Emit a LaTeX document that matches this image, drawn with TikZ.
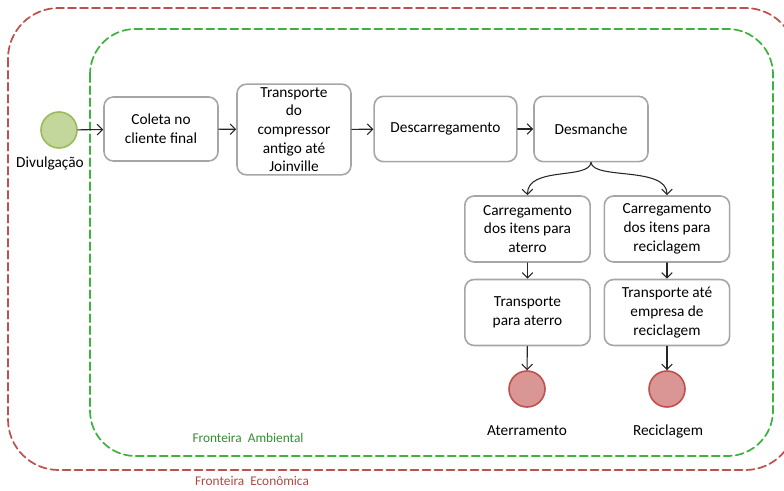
\documentclass[tikz,border=0pt]{standalone}
\usepackage{fontspec}
\setmainfont{Carlito}
\usepackage{tikz}
\usetikzlibrary{arrows.meta}

\definecolor{boxgray}{HTML}{A6A6A6}
\definecolor{ambgreen}{HTML}{3DB23D}
\definecolor{ecored}{HTML}{C0504D}
\definecolor{startfill}{HTML}{C3D69B}
\definecolor{startline}{HTML}{9BBB59}
\definecolor{endfill}{HTML}{D99694}
\definecolor{endline}{HTML}{C0504D}

\tikzset{
  activity/.style={draw=boxgray,line width=1.2pt,rounded corners=7pt,fill=white,
    align=center,font=\fontsize{11.5}{14}\selectfont,inner sep=2pt},
  startev/.style={circle,draw=startline,fill=startfill,line width=1.2pt,minimum size=27pt,inner sep=0pt},
  endev/.style={circle,draw=endline,fill=endfill,line width=1.2pt,minimum size=27pt,inner sep=0pt},
  evlabel/.style={font=\fontsize{11.5}{13.5}\selectfont,inner sep=1pt},
  frontier/.style={line width=1.3pt,dash pattern=on 6pt off 3pt,rounded corners=#1},
  flow/.style={->,line width=0.8pt,black!85}
}

\begin{document}
\begin{tikzpicture}[x=0.75pt,y=-0.75pt,line cap=round,line join=round,>={Straight Barb[length=4pt,width=8pt]}]
        \useasboundingbox (0,0) rectangle (784,491);
        \clip (0,0) rectangle (784,491);
        % fronteiras
        \draw [frontier=38pt,ecored] (8,8) rectangle (796,470);
        \draw [frontier=34pt,ambgreen] (90,29) rectangle (773,456);
        \node [font=\fontsize{10}{12}\selectfont,text=ambgreen!80!black] (famb) at (248,438) {Fronteira\ \ Ambiental};
        \node [font=\fontsize{10}{12}\selectfont,text=ecored!90!black] (feco) at (252,481) {Fronteira\ \ Econômica};
        % eventos e atividades
        \node [startev] (div) at (59,130) {};
        \node [evlabel] (divl) at (50,163) {Divulgação};
        \node [activity,minimum width=85.5pt,minimum height=48pt] (coleta) at (161,129) {Coleta no\\cliente final};
        \node [activity,minimum width=85.5pt,minimum height=68pt] (transp) at (294,129.5) {Transporte\\do\\compressor\\antigo até\\Joinville};
        \node [activity,minimum width=107pt,minimum height=49pt] (descarr) at (445.5,129) {Descarregamento};
        \node [activity,minimum width=85.5pt,minimum height=49pt] (desm) at (591,129) {Desmanche};
        \node [activity,minimum width=94pt,minimum height=49.5pt] (carAt) at (527.5,229) {Carregamento\\dos itens para\\aterro};
        \node [activity,minimum width=94pt,minimum height=49.5pt] (carRe) at (667,229) {Carregamento\\dos itens para\\reciclagem};
        \node [activity,minimum width=94pt,minimum height=49.5pt] (trAt) at (527.5,312.5) {Transporte\\para aterro};
        \node [activity,minimum width=94pt,minimum height=49.5pt] (trRe) at (667,312.5) {Transporte até\\empresa de\\reciclagem};
        \node [endev] (aterr) at (527,389) {};
        \node [endev] (recic) at (667,389) {};
        \node [evlabel] (aterrl) at (527,431) {Aterramento};
        \node [evlabel] (recicl) at (668,431) {Reciclagem};
        % fluxos
        \draw [flow] (div) -- (coleta);
        \draw [flow] (coleta) -- (transp);
        \draw [flow] (transp) -- (descarr);
        \draw [flow] (descarr) -- (desm);
        \draw [flow] (desm.south) .. controls (589,180) and (527,166) .. (carAt.north);
        \draw [flow] (desm.south) .. controls (593,180) and (667,166) .. (carRe.north);
        \draw [flow] (carAt) -- (trAt);
        \draw [flow] (carRe) -- (trRe);
        \draw [flow] (trAt) -- (aterr);
        \draw [flow] (trRe) -- (recic);
    \end{tikzpicture}
\end{document}
